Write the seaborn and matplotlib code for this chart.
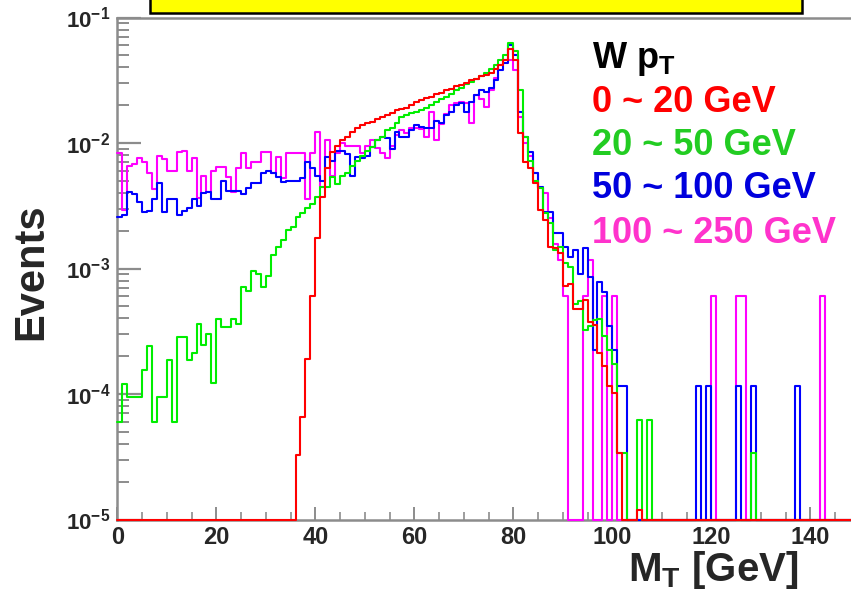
import numpy as np
import pandas as pd
import matplotlib
matplotlib.use("Agg")
import matplotlib.pyplot as plt
from matplotlib.patches import Rectangle
from matplotlib.ticker import FixedLocator, FixedFormatter, MultipleLocator, NullFormatter, LogLocator
import seaborn as sns

# Transverse-mass histograms (1 GeV bins, 0-150 GeV), normalised, one per W pT slice
mt_range = (0, 150)
mt_bin_width = 1

events_pt_0_20 = [
    0, 0, 0, 0, 0, 0, 0, 0, 0, 0,
    0, 0, 0, 0, 0, 0, 0, 0, 0, 0,
    0, 0, 0, 0, 0, 0, 0, 0, 0, 0,
    0, 0, 0, 0, 0, 0, 3.24e-5, 6.61e-5, 1.91e-4, 6.03e-4,
    1.74e-3, 3.72e-3, 6.31e-3, 8.51e-3, 9.55e-3, 1.05e-2, 1.12e-2, 1.23e-2, 1.32e-2, 1.38e-2,
    1.45e-2, 1.48e-2, 1.55e-2, 1.62e-2, 1.66e-2, 1.74e-2, 1.82e-2, 1.86e-2, 1.91e-2, 2.00e-2,
    2.14e-2, 2.19e-2, 2.29e-2, 2.34e-2, 2.45e-2, 2.51e-2, 2.63e-2, 2.69e-2, 2.82e-2, 2.88e-2,
    3.02e-2, 3.16e-2, 3.24e-2, 3.39e-2, 3.47e-2, 3.63e-2, 3.89e-2, 4.17e-2, 4.57e-2, 5.62e-2,
    4.57e-2, 1.20e-2, 7.08e-3, 6.31e-3, 4.79e-3, 2.95e-3, 2.45e-3, 1.48e-3, 1.45e-3, 1.32e-3,
    7.24e-4, 7.59e-4, 4.79e-4, 4.79e-4, 5.62e-4, 3.72e-4, 3.55e-4, 2.14e-4, 1.66e-4, 1.15e-4,
    1.02e-4, 3.39e-5, 0, 0, 0, 1.2e-5, 0, 0, 0, 0,
    0, 0, 0, 0, 0, 0, 0, 0, 0, 0,
    0, 0, 0, 0, 0, 0, 0, 0, 0, 0,
    0, 0, 0, 0, 0, 0, 0, 0, 0, 0,
    0, 0, 0, 0, 0, 0, 0, 0, 0, 0,
]

events_pt_20_50 = [
    6.03e-5, 1.20e-4, 9.55e-5, 9.55e-5, 9.55e-5, 1.55e-4, 2.40e-4, 6.03e-5, 9.55e-5, 9.55e-5,
    1.86e-4, 6.03e-5, 2.82e-4, 2.82e-4, 1.86e-4, 2.14e-4, 3.63e-4, 2.45e-4, 3.02e-4, 1.23e-4,
    3.98e-4, 3.39e-4, 3.39e-4, 3.98e-4, 3.63e-4, 7.08e-4, 6.61e-4, 9.55e-4, 9.12e-4, 7.08e-4,
    8.71e-4, 1.29e-3, 1.48e-3, 1.70e-3, 2.04e-3, 2.14e-3, 2.57e-3, 2.75e-3, 3.02e-3, 3.24e-3,
    3.72e-3, 4.47e-3, 4.47e-3, 5.37e-3, 4.68e-3, 5.50e-3, 5.75e-3, 6.61e-3, 7.24e-3, 7.94e-3,
    8.71e-3, 9.33e-3, 1.05e-2, 1.12e-2, 1.26e-2, 1.32e-2, 1.45e-2, 1.62e-2, 1.66e-2, 1.74e-2,
    1.78e-2, 1.82e-2, 1.91e-2, 2.00e-2, 2.14e-2, 2.24e-2, 2.34e-2, 2.45e-2, 2.63e-2, 2.75e-2,
    2.95e-2, 3.09e-2, 3.24e-2, 3.39e-2, 3.63e-2, 3.89e-2, 4.17e-2, 4.57e-2, 5.01e-2, 6.31e-2,
    5.37e-2, 2.63e-2, 1.12e-2, 7.24e-3, 5.01e-3, 4.37e-3, 2.75e-3, 2.29e-3, 1.41e-3, 1.48e-3,
    1.10e-3, 1.02e-3, 5.25e-4, 5.50e-4, 3.24e-4, 3.47e-4, 3.89e-4, 3.98e-4, 2.88e-4, 2.24e-4,
    1.74e-4, 3.39e-5, 3.39e-5, 0, 0, 6.17e-5, 0, 6.17e-5, 0, 0,
    0, 0, 0, 0, 0, 0, 0, 0, 0, 0,
    0, 0, 0, 0, 0, 0, 0, 0, 3.39e-5, 0,
    0, 0, 0, 0, 0, 0, 0, 0, 0, 0,
    0, 0, 0, 0, 0, 0, 0, 0, 0, 0,
]

events_pt_50_100 = [
    2.57e-3, 2.69e-3, 4.07e-3, 3.89e-3, 3.39e-3, 2.82e-3, 2.88e-3, 3.55e-3, 4.79e-3, 2.82e-3,
    3.55e-3, 3.55e-3, 2.69e-3, 2.88e-3, 3.02e-3, 3.55e-3, 3.16e-3, 3.98e-3, 4.07e-3, 3.55e-3,
    3.55e-3, 5.01e-3, 4.17e-3, 4.17e-3, 4.17e-3, 3.89e-3, 4.37e-3, 4.79e-3, 4.79e-3, 5.75e-3,
    6.03e-3, 5.75e-3, 5.37e-3, 4.90e-3, 5.01e-3, 5.01e-3, 5.01e-3, 5.25e-3, 7.08e-3, 6.31e-3,
    5.50e-3, 5.01e-3, 7.76e-3, 7.24e-3, 8.71e-3, 8.71e-3, 8.13e-3, 5.50e-3, 7.76e-3, 7.59e-3,
    7.94e-3, 9.33e-3, 1.05e-2, 1.12e-2, 1.10e-2, 8.91e-3, 1.23e-2, 1.12e-2, 1.12e-2, 1.26e-2,
    1.38e-2, 1.35e-2, 1.32e-2, 1.32e-2, 1.51e-2, 1.45e-2, 1.66e-2, 1.78e-2, 2.00e-2, 2.09e-2,
    1.78e-2, 2.14e-2, 2.40e-2, 2.63e-2, 2.57e-2, 2.75e-2, 3.16e-2, 3.80e-2, 4.37e-2, 6.03e-2,
    5.01e-2, 1.78e-2, 1.12e-2, 8.51e-3, 5.75e-3, 4.47e-3, 2.82e-3, 2.82e-3, 1.91e-3, 1.91e-3,
    1.48e-3, 1.23e-3, 1.41e-3, 9.12e-4, 1.45e-3, 8.51e-4, 2.24e-4, 7.76e-4, 6.46e-4, 3.47e-4,
    2.24e-4, 1.15e-4, 1.15e-4, 0, 0, 0, 0, 0, 0, 0,
    0, 0, 0, 0, 0, 0, 0, 1.15e-4, 0, 1.15e-4,
    0, 0, 0, 0, 0, 1.15e-4, 0, 0, 1.15e-4, 0,
    0, 0, 0, 0, 0, 0, 0, 1.15e-4, 0, 0,
    0, 0, 0, 0, 0, 0, 0, 0, 0, 0,
]

events_pt_100_250 = [
    8.32e-3, 2.95e-3, 6.61e-3, 6.76e-3, 7.59e-3, 7.08e-3, 5.75e-3, 4.27e-3, 7.94e-3, 7.41e-3,
    6.03e-3, 6.03e-3, 8.51e-3, 8.71e-3, 6.03e-3, 7.59e-3, 3.63e-3, 5.50e-3, 4.07e-3, 6.03e-3,
    6.46e-3, 6.46e-3, 5.37e-3, 4.07e-3, 6.31e-3, 8.32e-3, 6.31e-3, 7.08e-3, 7.08e-3, 8.51e-3,
    8.51e-3, 5.75e-3, 7.76e-3, 5.25e-3, 8.32e-3, 8.32e-3, 8.32e-3, 8.32e-3, 3.55e-3, 8.32e-3,
    1.23e-2, 4.47e-3, 1.05e-2, 5.50e-3, 8.32e-3, 1.00e-2, 9.55e-3, 9.55e-3, 9.55e-3, 8.32e-3,
    9.55e-3, 1.05e-2, 9.12e-3, 8.32e-3, 7.59e-3, 9.55e-3, 1.15e-2, 1.26e-2, 1.20e-2, 1.32e-2,
    1.32e-2, 1.29e-2, 1.12e-2, 1.78e-2, 1.05e-2, 1.41e-2, 1.70e-2, 2.00e-2, 2.09e-2, 2.14e-2,
    2.09e-2, 1.45e-2, 2.40e-2, 2.24e-2, 1.95e-2, 2.63e-2, 3.31e-2, 4.17e-2, 4.57e-2, 4.57e-2,
    3.80e-2, 1.62e-2, 1.00e-2, 7.94e-3, 5.75e-3, 4.37e-3, 3.98e-3, 2.51e-3, 1.58e-3, 1.17e-3,
    6.03e-4, 0, 0, 0, 6.03e-4, 1.17e-3, 0, 0, 6.03e-4, 0,
    6.03e-4, 0, 0, 0, 0, 0, 0, 0, 0, 0,
    0, 0, 0, 0, 0, 0, 0, 0, 0, 0,
    6.03e-4, 0, 0, 0, 0, 6.03e-4, 6.03e-4, 0, 0, 0,
    0, 0, 0, 0, 0, 0, 0, 0, 0, 0,
    0, 0, 6.03e-4, 0, 0, 0, 0, 0, 0, 0,
]

slice_labels = ["0 ~ 20 GeV", "20 ~ 50 GeV", "50 ~ 100 GeV", "100 ~ 250 GeV"]
line_colors = ["#ff0000", "#00ee00", "#0000ff", "#ff00ff"]
label_colors = ["#ff0000", "#22cc22", "#0000dd", "#ff33cc"]
y_tick_values = [1e-5, 1e-4, 1e-3, 1e-2, 1e-1]
y_tick_labels = [r"$\mathbf{10^{-5}}$", r"$\mathbf{10^{-4}}$", r"$\mathbf{10^{-3}}$",
                 r"$\mathbf{10^{-2}}$", r"$\mathbf{10^{-1}}$"]

sns.set_style("white")
plt.rcParams["font.family"] = ["Liberation Sans", "DejaVu Sans"]
plt.rcParams["mathtext.fontset"] = "custom"
plt.rcParams["mathtext.rm"] = "Liberation Sans"
plt.rcParams["mathtext.bf"] = "Liberation Sans:bold"
plt.rcParams["mathtext.it"] = "Liberation Sans:italic"

W, H = 851, 595
fig = plt.figure(figsize=(W / 100, H / 100), dpi=100)
fig.patch.set_facecolor("white")

# axis frame in pixel units: x 0..150 GeV spans 117.3 -> 859.8 px, y 1e-5..1e-1 spans 519.5 -> 17.5 px
ax_left, ax_right, ax_top, ax_bottom = 117.3, 859.8, 17.5, 519.5
ax = fig.add_axes([ax_left / W, 1 - ax_bottom / H, (ax_right - ax_left) / W, (ax_bottom - ax_top) / H])

y_floor = 1e-5
n_bins = len(events_pt_0_20)
centers = mt_range[0] + mt_bin_width * (np.arange(n_bins) + 0.5)
series = [events_pt_0_20, events_pt_20_50, events_pt_50_100, events_pt_100_250]

frames = []
for lab, vals in zip(slice_labels, series):
    v = np.asarray(vals, dtype=float)
    frames.append(pd.DataFrame({"mt": centers, "w": np.where(v > 0, v, y_floor), "slice": lab}))
df = pd.concat(frames, ignore_index=True)

# draw the highest-pT slice first so the 0-20 GeV curve ends up on top
for z, (lab, col) in enumerate(reversed(list(zip(slice_labels, line_colors)))):
    sub = df[df["slice"] == lab]
    sns.histplot(data=sub, x="mt", weights="w", binwidth=mt_bin_width, binrange=mt_range,
                 element="step", fill=False, color=col, linewidth=1.5, ax=ax,
                 clip_on=False, zorder=3 + z)

ax.set_yscale("log")
ax.set_xlim(*mt_range)
ax.set_ylim(1e-5, 1e-1)
ax.set_xlabel("")
ax.set_ylabel("")

ax.yaxis.set_major_locator(FixedLocator(y_tick_values))
ax.yaxis.set_major_formatter(FixedFormatter(y_tick_labels))
ax.yaxis.set_minor_locator(LogLocator(base=10, subs=np.arange(2, 10)))
ax.yaxis.set_minor_formatter(NullFormatter())
ax.xaxis.set_major_locator(MultipleLocator(20))
ax.xaxis.set_minor_locator(MultipleLocator(5))

tick_col = "#8c8c8c"
ax.tick_params(axis="y", which="major", direction="in", length=17, width=1.6, color=tick_col,
               labelsize=16, pad=5, left=True)
ax.tick_params(axis="y", which="minor", direction="in", length=8.5, width=1.4, color=tick_col, left=True)
ax.tick_params(axis="x", which="major", direction="in", length=9.5, width=1.4, color=tick_col,
               labelsize=17, pad=5, bottom=True)
ax.tick_params(axis="x", which="minor", direction="in", length=5.5, width=1.2, color=tick_col, bottom=True)
for t in ax.get_xticklabels():
    t.set_fontweight("bold")

for side in ["left", "bottom", "top", "right"]:
    ax.spines[side].set_color("#8c8c8c")
    ax.spines[side].set_linewidth(1.8)
    ax.spines[side].set_visible(True)

# legend block as coloured text lines
fig.text(592 / W, 1 - 68 / H, r"W p$_\mathbf{T}$", fontsize=26, fontweight="bold", color="black")
baselines = [112, 155, 198, 243]
for lab, col, py in zip(slice_labels, label_colors, baselines):
    fig.text(592 / W, 1 - py / H, lab, fontsize=26, fontweight="bold", color=col)

fig.text(31 / W, 1 - 272 / H, "Events", fontsize=30, fontweight="bold", rotation=90,
         ha="center", va="center")
fig.text(628 / W, 1 - 581 / H, r"M$_\mathbf{T}$ [GeV]", fontsize=29, fontweight="bold",
         ha="left", va="baseline")

# yellow title banner, cut by the top edge
fig.patches.append(Rectangle((150 / W, 1 - 13 / H), (802 - 150) / W, 0.1, transform=fig.transFigure,
                             facecolor="#ffff00", edgecolor="black", linewidth=1.8, clip_on=False))

fig.savefig("out.png", dpi=100, facecolor="white")
